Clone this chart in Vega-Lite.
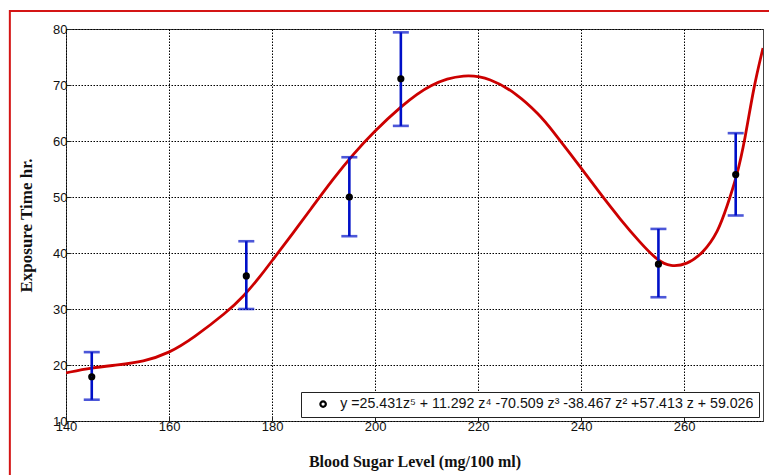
{
  "$schema": "https://vega.github.io/schema/vega-lite/v6.json",
  "width": 697,
  "height": 392,
  "autosize": {"type": "none"},
  "padding": {"left": 66, "top": 29, "right": 6, "bottom": 54},
  "background": "white",
  "config": {
    "view": {"stroke": "#444", "strokeWidth": 1},
    "axis": {
      "labelFont": "Liberation Sans", "labelFontSize": 13, "labelColor": "#111",
      "titleFont": "Liberation Serif", "titleFontWeight": "bold", "titleColor": "#111",
      "grid": true, "gridColor": "#000", "gridDash": [1.5, 1.5], "gridWidth": 1, "gridOpacity": 1,
      "domain": false, "tickColor": "#222", "tickSize": -5, "labelOverlap": false, "labelFlush": false
    },
    "legend": {
      "orient": "bottom-right", "offset": 4, "strokeColor": "#222", "fillColor": "white",
      "padding": 5, "labelFont": "Liberation Sans", "labelFontSize": 14.2, "labelColor": "#111",
      "labelLimit": 0, "symbolOffset": 10, "labelOffset": 10, "cornerRadius": 0,
      "symbolSize": 30, "symbolStrokeWidth": 2.2, "symbolFillColor": "white", "symbolStrokeColor": "black"
    }
  },
  "datasets": {
    "points": [
      {"sugar": 145, "time": 17.9, "lo": 13.8, "hi": 22.3, "series": "y =25.431z⁵ + 11.292 z⁴ -70.509 z³ -38.467 z² +57.413 z + 59.026"},
      {"sugar": 175, "time": 35.9, "lo": 30.0, "hi": 42.1, "series": "y =25.431z⁵ + 11.292 z⁴ -70.509 z³ -38.467 z² +57.413 z + 59.026"},
      {"sugar": 195, "time": 50.0, "lo": 43.0, "hi": 57.1, "series": "y =25.431z⁵ + 11.292 z⁴ -70.509 z³ -38.467 z² +57.413 z + 59.026"},
      {"sugar": 205, "time": 71.1, "lo": 62.7, "hi": 79.4, "series": "y =25.431z⁵ + 11.292 z⁴ -70.509 z³ -38.467 z² +57.413 z + 59.026"},
      {"sugar": 255, "time": 38.0, "lo": 32.1, "hi": 44.3, "series": "y =25.431z⁵ + 11.292 z⁴ -70.509 z³ -38.467 z² +57.413 z + 59.026"},
      {"sugar": 270, "time": 54.0, "lo": 46.7, "hi": 61.4, "series": "y =25.431z⁵ + 11.292 z⁴ -70.509 z³ -38.467 z² +57.413 z + 59.026"}
    ],
    "curve": [
      {"sugar": 140, "time": 18.6}, {"sugar": 145, "time": 19.5}, {"sugar": 150, "time": 20.0},
      {"sugar": 155, "time": 20.6}, {"sugar": 160, "time": 22.1}, {"sugar": 164.7, "time": 24.8},
      {"sugar": 171.2, "time": 29.4}, {"sugar": 174.4, "time": 32.2}, {"sugar": 177.7, "time": 35.8},
      {"sugar": 180.3, "time": 39.0}, {"sugar": 184.1, "time": 43.6}, {"sugar": 187.4, "time": 47.7},
      {"sugar": 191.9, "time": 53.3}, {"sugar": 195.8, "time": 57.7}, {"sugar": 199.7, "time": 61.6},
      {"sugar": 204.9, "time": 66.1}, {"sugar": 210.7, "time": 70.3}, {"sugar": 217.5, "time": 72.0},
      {"sugar": 222.3, "time": 71.2}, {"sugar": 227.5, "time": 68.5}, {"sugar": 232.0, "time": 64.6},
      {"sugar": 234.0, "time": 62.4}, {"sugar": 239.8, "time": 55.4}, {"sugar": 243.7, "time": 50.6},
      {"sugar": 247.6, "time": 46.0}, {"sugar": 251.5, "time": 41.8}, {"sugar": 255.0, "time": 38.5},
      {"sugar": 257.3, "time": 37.6}, {"sugar": 260.5, "time": 37.9}, {"sugar": 263.7, "time": 40.0},
      {"sugar": 266.6, "time": 43.8}, {"sugar": 268.3, "time": 48.3}, {"sugar": 270.2, "time": 53.6},
      {"sugar": 271.8, "time": 60.2}, {"sugar": 273.5, "time": 69.7}, {"sugar": 275.3, "time": 76.6}
    ]
  },
  "encoding": {
    "x": {
      "field": "sugar", "type": "quantitative",
      "scale": {"domain": [140, 275.3], "nice": false, "zero": false},
      "axis": {"values": [140, 160, 180, 200, 220, 240, 260], "title": "Blood Sugar Level (mg/100 ml)",
               "titleFontSize": 16, "labelPadding": 4, "titlePadding": 20}
    },
    "y": {
      "field": "time", "type": "quantitative",
      "scale": {"domain": [10, 80], "nice": false, "zero": false},
      "axis": {"values": [10, 20, 30, 40, 50, 60, 70, 80], "title": "Exposure Time hr.",
               "titleFontSize": 17, "labelPadding": 4, "titlePadding": 17}
    }
  },
  "layer": [
    {
      "data": {"name": "curve"},
      "mark": {"type": "line", "color": "#cc0000", "strokeWidth": 2.8, "interpolate": "basis", "clip": true}
    },
    {
      "data": {"name": "points"},
      "mark": {"type": "rule", "color": "#0010c8", "strokeWidth": 2.6},
      "encoding": {"y": {"field": "lo", "type": "quantitative"}, "y2": {"field": "hi"}}
    },
    {
      "data": {"name": "points"},
      "mark": {"type": "tick", "orient": "horizontal", "color": "#0010c8", "size": 16, "thickness": 2.6},
      "encoding": {"y": {"field": "lo", "type": "quantitative"}}
    },
    {
      "data": {"name": "points"},
      "mark": {"type": "tick", "orient": "horizontal", "color": "#0010c8", "size": 16, "thickness": 2.6},
      "encoding": {"y": {"field": "hi", "type": "quantitative"}}
    },
    {
      "data": {"name": "points"},
      "mark": {"type": "point", "filled": false, "color": "black", "size": 16, "strokeWidth": 3.2, "opacity": 1},
      "encoding": {
        "shape": {"field": "series", "type": "nominal", "scale": {"range": ["circle"]}, "legend": {"title": null}}
      }
    },
    {
      "data": {"values": [{"x0": 129.1, "x1": 300, "y0": 83.2, "y1": -5}]},
      "mark": {"type": "rect", "fillOpacity": 0, "stroke": "#d41515", "strokeWidth": 2, "clip": false},
      "encoding": {
        "x": {"field": "x0", "type": "quantitative"}, "x2": {"field": "x1"},
        "y": {"field": "y0", "type": "quantitative"}, "y2": {"field": "y1"}
      }
    }
  ]
}
